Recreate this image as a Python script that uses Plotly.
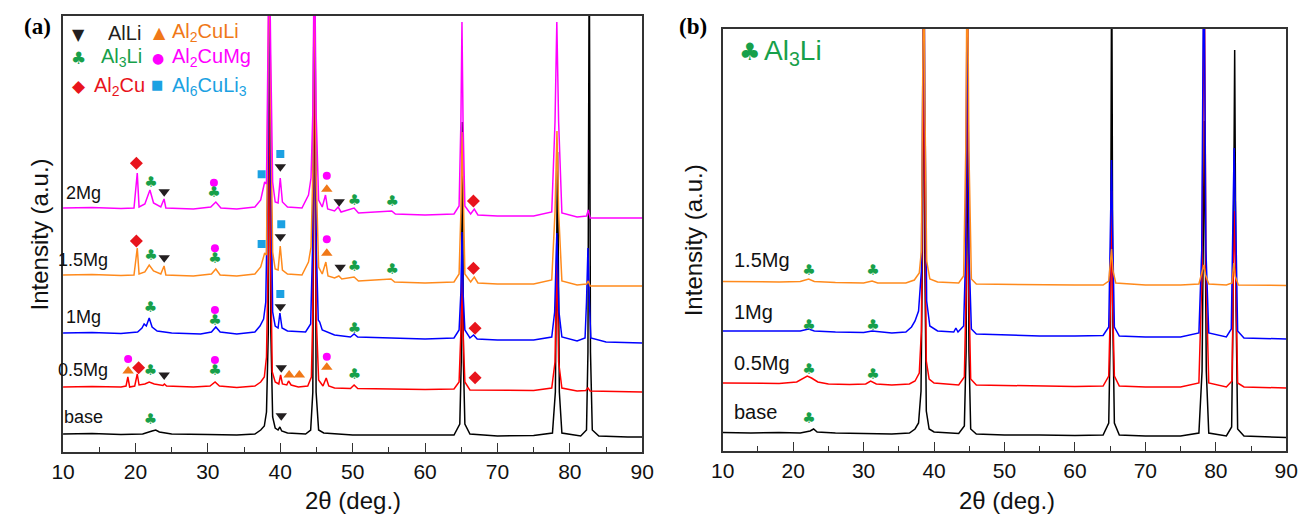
import plotly.graph_objects as go

W, H = 1311, 521

# ---------------- Panel (a): offset XRD patterns, (2θ in deg, intensity in a.u.) ----------------
a_base = [(10, 18), (14, 18.5), (18, 17.5), (21, 18), (22.3, 21), (22.8, 22), (23.3, 20), (25, 18),
          (30, 17.5), (34, 17), (36.5, 18), (37.3, 22), (37.8, 26), (38.1, 40), (38.35, 120),
          (38.52, 520), (38.7, 120), (38.95, 35), (39.3, 24), (39.7, 22), (39.95, 25), (40.2, 21),
          (41, 19), (43.5, 18), (44.2, 22), (44.5, 60), (44.74, 520), (44.95, 60), (45.3, 22),
          (46, 19), (50, 17), (55, 17), (60, 16.5), (64, 17), (64.8, 28), (65.0, 90), (65.15, 330),
          (65.3, 90), (65.5, 28), (66.2, 18), (70, 16), (75, 16.5), (77.6, 19), (78.0, 60),
          (78.3, 300), (78.55, 60), (78.9, 19), (81.5, 16), (82.3, 22), (82.5, 100), (82.68, 520),
          (82.85, 100), (83.1, 22), (84, 16), (88, 15), (90, 15)]

a_05mg = [(10, 65), (14, 65.5), (18, 65), (18.7, 66), (18.95, 75), (19.2, 65), (19.9, 66),
          (20.25, 78), (20.5, 67), (21.3, 68), (21.9, 70), (22.6, 68), (23.8, 66.5), (24.0, 68),
          (24.3, 66), (28, 65), (30.3, 66), (31.0, 70), (31.6, 66), (34, 64.5), (36.5, 66),
          (37.3, 70), (37.8, 75), (38.1, 95), (38.35, 200), (38.5, 520), (38.65, 200), (38.9, 80),
          (39.3, 70), (39.8, 68), (40.05, 77), (40.3, 68), (40.9, 67), (41.15, 71), (41.5, 67),
          (42.5, 65), (43.8, 66), (44.3, 75), (44.5, 140), (44.72, 520), (44.95, 140), (45.3, 72),
          (45.9, 66), (46.35, 74), (46.7, 66), (47.5, 64), (49.7, 63.5), (50.2, 67), (50.7, 63.5),
          (55, 63), (60, 62.5), (64, 63), (64.7, 70), (64.95, 120), (65.1, 180), (65.25, 120),
          (65.5, 70), (66.2, 62), (70, 62), (75, 61.5), (77.5, 64), (77.95, 90), (78.2, 200),
          (78.45, 90), (78.9, 64), (81, 61), (82.2, 61.5), (82.5, 64), (82.8, 61), (85, 60.5),
          (90, 60)]

a_1mg = [(10, 119), (14, 119.5), (18, 118.5), (20.3, 120), (20.9, 124), (21.2, 128), (21.5, 126),
         (21.9, 134), (22.3, 125), (23, 121), (25, 119), (29, 118), (30.5, 120), (31.1, 125),
         (31.7, 120), (34, 118), (36.5, 120), (37.2, 126), (37.7, 133), (38.0, 150), (38.3, 280),
         (38.5, 520), (38.7, 280), (38.95, 140), (39.3, 126), (39.7, 124), (39.95, 139),
         (40.25, 124), (41, 121), (43.5, 120), (44.2, 128), (44.45, 200), (44.72, 520),
         (45.0, 200), (45.25, 132), (45.45, 130), (45.8, 122), (46.5, 120), (47.5, 117),
         (49.7, 115), (50.2, 118), (50.7, 115), (55, 114), (60, 113), (64, 114), (64.7, 122),
         (64.95, 160), (65.1, 220), (65.25, 160), (65.5, 122), (66.2, 114), (66.7, 117),
         (67.2, 113), (70, 112), (75, 112), (77.5, 115), (77.9, 140), (78.2, 219), (78.5, 140),
         (78.9, 115), (81, 111), (82.1, 114), (82.3, 150), (82.5, 204), (82.7, 150), (82.9, 114),
         (85, 110), (90, 109)]

a_15mg = [(10, 177), (14, 177.5), (18, 176.5), (19.8, 177), (20.25, 204), (20.5, 178), (21.3, 180),
          (21.9, 187), (22.5, 181), (23.5, 178), (23.95, 186), (24.2, 177), (28, 176), (30.5, 178),
          (31.1, 183), (31.7, 177), (34, 176), (36.5, 178), (37.3, 185), (37.85, 199), (38.1, 197),
          (38.3, 350), (38.48, 520), (38.68, 350), (38.95, 200), (39.3, 183), (39.7, 182),
          (40.0, 206), (40.3, 182), (41, 178), (43, 177), (43.9, 190), (44.25, 205), (44.5, 280),
          (44.72, 520), (44.95, 280), (45.3, 185), (45.8, 178), (46.3, 190), (46.6, 176),
          (47.5, 174), (48.1, 176), (48.5, 173), (50.2, 175), (50.8, 171), (55.3, 173),
          (55.8, 170), (60, 169), (64, 170), (64.7, 178), (64.95, 240), (65.12, 320), (65.3, 240),
          (65.5, 178), (66.3, 170), (66.8, 175), (67.3, 169), (70, 168), (75, 168), (77.5, 172),
          (77.95, 240), (78.22, 321), (78.45, 240), (78.9, 171), (81, 167), (82.3, 168),
          (82.55, 171), (82.8, 166), (85, 166), (90, 166)]

a_2mg = [(10, 244), (14, 244.5), (18, 243.5), (19.8, 244), (20.25, 279), (20.5, 245), (21.3, 248),
         (22.0, 262), (22.5, 249), (23.5, 245), (23.95, 253), (24.2, 244), (28, 243), (30.4, 245),
         (31.1, 250), (31.8, 244), (34, 243), (36.5, 245), (37.3, 252), (37.85, 270), (38.1, 268),
         (38.3, 400), (38.48, 520), (38.68, 400), (38.95, 270), (39.3, 250), (39.7, 249),
         (40.0, 274), (40.3, 250), (41, 245), (43, 244), (43.9, 257), (44.25, 274), (44.5, 340),
         (44.72, 520), (44.95, 340), (45.3, 252), (45.8, 245), (46.25, 257), (46.55, 243),
         (47.5, 241), (48.0, 245), (48.4, 240), (50.2, 244), (50.8, 239), (55.4, 241),
         (55.9, 238), (60, 237), (64, 238), (64.7, 246), (64.95, 330), (65.1, 430), (65.25, 330),
         (65.5, 246), (66.3, 238), (66.8, 243), (67.3, 237), (70, 236), (75, 236), (77.5, 240),
         (77.95, 330), (78.2, 430), (78.45, 330), (78.9, 239), (81, 235), (82.3, 236),
         (82.55, 242), (82.8, 234), (85, 234), (90, 234)]

# ---------------- Panel (b) ----------------
b_base = [(10, 18.5), (14, 18), (18, 18.5), (21, 18), (22.4, 20), (22.9, 22), (23.4, 19), (26, 18),
          (30, 17.5), (34, 17), (36.5, 18), (37.3, 22), (37.8, 28), (38.15, 60), (38.35, 200),
          (38.52, 520), (38.68, 200), (38.9, 40), (39.3, 22), (40, 19), (43.5, 17.5), (44.3, 25),
          (44.55, 100), (44.75, 380), (44.95, 100), (45.2, 22), (46, 17), (50, 16), (55, 16),
          (60, 15.5), (64, 16), (64.8, 28), (65.05, 130), (65.22, 520), (65.38, 130), (65.6, 28),
          (66.3, 16), (70, 15), (75, 15), (77.6, 18), (78.05, 80), (78.38, 330), (78.65, 80),
          (79, 18), (81.5, 15), (82.25, 24), (82.45, 140), (82.68, 401), (82.88, 140), (83.1, 22),
          (84, 15), (88, 14), (90, 13.5)]

b_05mg = [(10, 68), (14, 68), (18, 67.5), (20.5, 69), (21.5, 73), (22.0, 75), (22.6, 73),
          (23.5, 69), (25, 67), (28, 66.5), (30.3, 67), (31.0, 70), (31.8, 67), (34, 66),
          (36.5, 67), (37.3, 70), (37.9, 78), (38.2, 120), (38.4, 300), (38.5, 520), (38.65, 300),
          (38.9, 90), (39.3, 72), (40, 68), (43.5, 66), (44.3, 74), (44.55, 160), (44.75, 520),
          (44.95, 160), (45.2, 72), (46, 66), (50, 65.5), (55, 65), (60, 64.5), (64, 65),
          (64.8, 75), (65.05, 150), (65.2, 260), (65.35, 150), (65.6, 75), (66.3, 65), (70, 64),
          (75, 64), (77.6, 68), (78.05, 180), (78.35, 520), (78.6, 180), (79, 68), (81.5, 64),
          (82.3, 70), (82.5, 180), (82.7, 240), (82.9, 150), (83.1, 68), (84, 64), (88, 63.5),
          (90, 63)]

b_1mg = [(10, 120), (14, 120), (18, 119.5), (21, 120), (22.2, 122), (23, 120), (26, 119),
         (30, 118.5), (31.2, 120), (34, 118), (36, 119), (36.8, 124), (37.3, 130), (37.8, 140),
         (38.2, 180), (38.4, 350), (38.55, 520), (38.7, 350), (38.95, 150), (39.4, 125),
         (40.5, 120), (42.8, 119), (43.1, 123), (43.4, 119), (44.2, 125), (44.5, 200),
         (44.72, 520), (44.95, 200), (45.3, 122), (46, 117), (50, 116), (55, 115), (60, 115),
         (64, 115.5), (64.8, 124), (65.05, 220), (65.2, 291), (65.35, 220), (65.6, 124),
         (66.3, 115), (70, 114), (75, 114), (77.6, 118), (78.0, 200), (78.3, 520), (78.6, 200),
         (79, 118), (81.5, 114), (82.2, 122), (82.45, 240), (82.6, 303), (82.8, 240), (83.1, 120),
         (84, 113), (88, 112.5), (90, 112)]

b_15mg = [(10, 169.5), (14, 169), (18, 169), (21, 169.5), (22.2, 172), (23, 169.5), (26, 168.5),
          (30, 168), (31.2, 170), (32, 168), (36, 168), (37.2, 171), (37.9, 178), (38.2, 200),
          (38.4, 350), (38.55, 520), (38.7, 350), (38.95, 190), (39.4, 172), (40.5, 169),
          (43.5, 168), (44.2, 175), (44.5, 300), (44.72, 520), (44.95, 300), (45.3, 172),
          (46, 167), (50, 166.5), (55, 166), (60, 166), (64, 166), (64.8, 170), (65.05, 190),
          (65.2, 202), (65.4, 180), (65.8, 168), (70, 166), (75, 166), (77.6, 167), (78.1, 180),
          (78.3, 186), (78.55, 176), (79, 167), (81.5, 166), (82.3, 168), (82.55, 188),
          (82.75, 175), (83.2, 166), (86, 165.5), (90, 165.5)]

# ---------------- Phase markers, panel (a) ----------------
alli_a = [(23.97, 260.3), (40.01, 285.3), (48.14, 250.3), (23.97, 194.3), (40.01, 215.3),
          (48.28, 184.7), (40.01, 145.3), (23.97, 77), (40.14, 84.3), (40.14, 36.3)]
al2culi_a = [(46.43, 262.7), (46.43, 198.7), (18.99, 81), (41.23, 77), (42.64, 77), (46.43, 84.7)]
al3li_a = [(22.16, 268.7), (30.84, 258.7), (50.27, 250.3), (55.46, 249.7), (22.16, 196),
           (30.98, 192.7), (50.27, 184.7), (55.46, 181.3), (22.07, 143.7), (30.98, 131),
           (50.27, 122.7), (22.07, 80.3), (30.98, 80.3), (50.27, 77), (22.07, 31.3)]
al2cumg_a = [(30.84, 269.3), (46.43, 276.3), (30.98, 203.7), (46.43, 212.7), (30.98, 142),
             (18.99, 93), (30.98, 92), (46.43, 95.3)]
al2cu_a = [(20.13, 288.7), (66.68, 251), (20.13, 211), (66.68, 183.7), (66.91, 123.7),
           (20.44, 84.3), (66.91, 74.3)]
al6culi3_a = [(37.43, 277.7), (40.01, 298), (37.43, 208), (40.14, 227.7), (40.01, 158)]

# ---------------- Phase markers, panel (b) ----------------
al3li_b = [(22.24, 179.3), (31.32, 179.3), (22.24, 125), (31.32, 125), (22.24, 80.3),
           (31.32, 76), (22.24, 31.7)]

# Sample names and where they sit
labels_a = ["2Mg", "1.5Mg", "1Mg", "0.5Mg", "base"]
labels_a_y = [259, 192, 135, 82, 35]
labels_b = ["1.5Mg", "1Mg", "0.5Mg", "base"]
labels_b_y = [191, 139, 88, 39]

# Colours
BLACK, RED, BLUE, ORANGE, MAGENTA = "#000000", "#FF0000", "#0000FF", "#FF8A1C", "#FF00FF"
GREEN, DRED, SKY, TORANGE, TBLACK = "#17A04A", "#E8141C", "#1BA1E2", "#F07818", "#231F20"

FONT = "Liberation Sans, Arial, sans-serif"
SYM = "DejaVu Sans, sans-serif"

fig = go.Figure()


def add_line(pts, color, xa, ya):
    fig.add_trace(go.Scatter(x=[p[0] for p in pts], y=[p[1] for p in pts], mode="lines",
                             line=dict(color=color, width=1.5), xaxis=xa, yaxis=ya,
                             hoverinfo="skip", showlegend=False))


def add_marks(pts, symbol, size, color, xa, ya):
    fig.add_trace(go.Scatter(x=[p[0] for p in pts], y=[p[1] for p in pts], mode="markers",
                             marker=dict(symbol=symbol, size=size, color=color,
                                         line=dict(width=0)),
                             xaxis=xa, yaxis=ya, hoverinfo="skip", showlegend=False))


def add_clubs(pts, xa, ya):
    fig.add_trace(go.Scatter(x=[p[0] for p in pts], y=[p[1] for p in pts], mode="text",
                             text=["♣"] * len(pts), textposition="middle center",
                             textfont=dict(family=SYM, size=15, color=GREEN),
                             xaxis=xa, yaxis=ya, hoverinfo="skip", showlegend=False))


# panel (a) curves
for pts, col in [(a_base, BLACK), (a_05mg, RED), (a_1mg, BLUE), (a_15mg, ORANGE), (a_2mg, MAGENTA)]:
    add_line(pts, col, "x", "y")
# panel (b) curves
for pts, col in [(b_base, BLACK), (b_05mg, RED), (b_1mg, BLUE), (b_15mg, ORANGE)]:
    add_line(pts, col, "x2", "y2")

# phase markers
add_marks(alli_a, "triangle-down", 10, TBLACK, "x", "y")
add_marks(al2culi_a, "triangle-up", 10, TORANGE, "x", "y")
add_marks(al2cumg_a, "circle", 8, MAGENTA, "x", "y")
add_marks(al2cu_a, "diamond", 10, DRED, "x", "y")
add_marks(al6culi3_a, "square", 8, SKY, "x", "y")
add_clubs(al3li_a, "x", "y")
add_clubs(al3li_b, "x2", "y2")


def px(v):
    return v / W


def py(v):
    return 1 - v / H


ann = []
# sample labels
for t, yv in zip(labels_a, labels_a_y):
    ann.append(dict(x=12.8, y=yv, xref="x", yref="y", text=t, showarrow=False,
                    xanchor="center", yanchor="middle", font=dict(family=FONT, size=18, color="#111")))
for t, yv in zip(labels_b, labels_b_y):
    ann.append(dict(x=11.3, y=yv, xref="x2", yref="y2", text=t, showarrow=False,
                    xanchor="left", yanchor="middle", font=dict(family=FONT, size=20, color="#111")))

# legend block of panel (a)
leg_sym = [("▼", 68, 34, TBLACK, 16), ("▲", 150, 32, TORANGE, 16), ("♣", 68, 58, GREEN, 17),
           ("●", 149, 58, MAGENTA, 14), ("◆", 68, 86, DRED, 17), ("■", 148, 85, SKY, 13)]
for s, x0, y0, c, sz in leg_sym:
    ann.append(dict(x=px(x0), y=py(y0), xref="paper", yref="paper", text=s, showarrow=False,
                    xanchor="center", yanchor="middle", font=dict(family=SYM, size=sz, color=c)))
leg_txt = [("AlLi", 96, 33, TBLACK), ("Al<sub>2</sub>CuLi", 161, 33, TORANGE),
           ("Al<sub>3</sub>Li", 89, 58, GREEN), ("Al<sub>2</sub>CuMg", 161, 58, MAGENTA),
           ("Al<sub>2</sub>Cu", 82, 86, DRED), ("Al<sub>6</sub>CuLi<sub>3</sub>", 161, 86, SKY)]
for t, x0, y0, c in leg_txt:
    ann.append(dict(x=px(x0), y=py(y0), xref="paper", yref="paper", text=t, showarrow=False,
                    xanchor="left", yanchor="middle", font=dict(family=FONT, size=20, color=c)))

# legend of panel (b)
ann.append(dict(x=px(752), y=py(52), xref="paper", yref="paper", text="♣", showarrow=False,
                xanchor="center", yanchor="middle", font=dict(family=SYM, size=24, color=GREEN)))
ann.append(dict(x=px(764), y=py(52), xref="paper", yref="paper", text="Al<sub>3</sub>Li",
                showarrow=False, xanchor="left", yanchor="middle",
                font=dict(family=FONT, size=28, color=GREEN)))

# panel letters
for t, x0 in [("(a)", 26), ("(b)", 694)]:
    ann.append(dict(x=px(x0), y=py(27), xref="paper", yref="paper", text="<b>%s</b>" % t,
                    showarrow=False, xanchor="center", yanchor="middle",
                    font=dict(family="Liberation Serif, Times New Roman, serif", size=23, color="#000")))

# axis titles
for x0 in [347, 1014]:
    ann.append(dict(x=px(x0), y=py(500), xref="paper", yref="paper", text="2θ (deg.)",
                    showarrow=False, xanchor="center", yanchor="middle",
                    font=dict(family=FONT, size=24, color="#111")))
for x0, y0 in [(28, 234), (694, 240)]:
    ann.append(dict(x=px(x0), y=py(y0), xref="paper", yref="paper", text="Intensity (a.u.)",
                    showarrow=False, xanchor="center", yanchor="middle", textangle=-90,
                    font=dict(family=FONT, size=24, color="#111")))

xcommon = dict(range=[10, 90], dtick=10, tick0=10, ticks="inside", ticklen=9, tickwidth=1.3,
               tickcolor="#333", showline=True, linecolor="#333", linewidth=1.5, mirror=True,
               showgrid=False, zeroline=False,
               tickfont=dict(family=FONT, size=21, color="#111"),
               minor=dict(dtick=5, tick0=10, ticks="inside", ticklen=5, tickwidth=1.2,
                          tickcolor="#333", showgrid=False))
ycommon = dict(showticklabels=False, ticks="", showline=True, linecolor="#333", linewidth=1.5,
               mirror=True, showgrid=False, zeroline=False)

fig.update_layout(
    width=W, height=H, margin=dict(l=0, r=0, t=0, b=0),
    paper_bgcolor="white", plot_bgcolor="white", showlegend=False,
    xaxis=dict(domain=[52 / W, 642 / W], anchor="y", **xcommon),
    yaxis=dict(domain=[1 - 452 / H, 1 - 16 / H], anchor="x", range=[0, 436], **ycommon),
    xaxis2=dict(domain=[724 / W, 1298 / W], anchor="y2", **xcommon),
    yaxis2=dict(domain=[1 - 451 / H, 1 - 29 / H], anchor="x2", range=[0, 422], **ycommon),
    annotations=ann,
)

fig.write_html("out.html")
